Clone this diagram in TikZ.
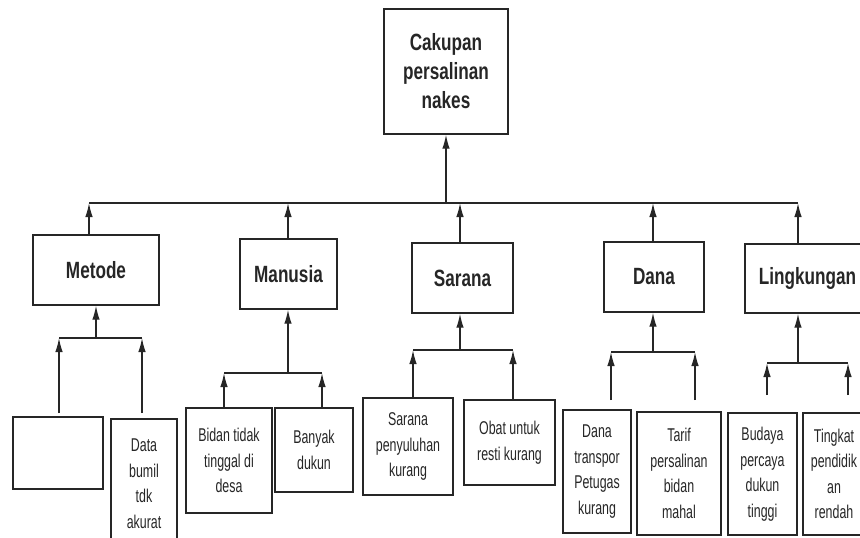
\documentclass[tikz,border=0pt]{standalone}
\usepackage{fontspec}
\newfontfamily\headfont{Liberation Sans}[FakeStretch=0.73]
\newfontfamily\itemfont{Liberation Sans}[FakeStretch=0.67]
\usetikzlibrary{arrows.meta}
\begin{document}
\begin{tikzpicture}[x=1pt,y=-1pt,
  ink/.style={draw=black!85,line width=1.4pt},
  arr/.style={ink,-{Latex[length=14pt,width=7.5pt]}},
  boxbase/.style={ink,text=black!85,inner sep=0pt,align=center},
  headbox/.style={boxbase,font={\headfont\bfseries\fontsize{23.5}{29}\selectfont}},
  itembox/.style={boxbase,font={\itemfont\fontsize{18.5}{25.5}\selectfont}}]
\useasboundingbox[fill=white] (0,0) rectangle (860,538);

% top problem box
\node[headbox,minimum width=124pt,minimum height=125pt] (T) at (446,71.5)
  {Cakupan\\persalinan\\nakes};

% cause categories
\node[headbox,minimum width=126pt,minimum height=70pt] (K1) at (96,270) {Metode};
\node[headbox,minimum width=97pt,minimum height=70pt] (K2) at (288.5,274) {Manusia};
\node[headbox,minimum width=101pt,minimum height=70pt] (K3) at (462.5,278) {Sarana};
\node[headbox,minimum width=100pt,minimum height=70pt] (K4) at (654,277) {Dana};
\node[headbox,minimum width=125pt,minimum height=69pt] (K5) at (807.5,278.5) {Lingkungan};

% detailed causes
\node[itembox,minimum width=90pt,minimum height=72pt] (C11) at (58,453) {};
\node[itembox,minimum width=66pt,minimum height=129pt] (C12) at (144,483.5) {Data\\bumil\\tdk\\akurat};
\node[itembox,minimum width=86pt,minimum height=105pt] (C21) at (229,460.5) {Bidan tidak\\tinggal di\\desa};
\node[itembox,minimum width=78pt,minimum height=84pt] (C22) at (314,450) {Banyak\\dukun};
\node[itembox,minimum width=90pt,minimum height=97pt] (C31) at (408,446.5) {Sarana\\penyuluhan\\kurang};
\node[itembox,minimum width=91pt,minimum height=85pt] (C32) at (509.5,442.5) {Obat untuk\\resti kurang};
\node[itembox,minimum width=68pt,minimum height=123pt] (C41) at (597,471.5) {Dana\\transpor\\Petugas\\kurang};
\node[itembox,minimum width=84pt,minimum height=123pt] (C42) at (679,473.5) {Tarif\\persalinan\\bidan\\mahal};
\node[itembox,minimum width=69pt,minimum height=122pt] (C51) at (762.5,474) {Budaya\\percaya\\dukun\\tinggi};
\node[itembox,minimum width=62pt,minimum height=122pt] (C52) at (834,474) {Tingkat\\pendidik\\an\\rendah};

% main bar and its junctions
\coordinate (m0) at (446,203);
\coordinate (a1) at (89,203);
\coordinate (a2) at (288,203);
\coordinate (a3) at (460,203);
\coordinate (a4) at (653,203);
\coordinate (a5) at (798,203);
\draw[ink] (a1) -- (a5);
\draw[arr] (m0) -- (T.south);
\foreach \k in {1,...,5} \draw[arr] (K\k.north -| a\k) -- (a\k);

% Metode branch
\coordinate (j1) at (96,338);
\coordinate (b1l) at (59,338);
\coordinate (b1r) at (142,338);
\coordinate (f1l) at (59,413);
\coordinate (f1r) at (142,413);
\draw[ink] (b1l) -- (b1r);
\draw[arr] (j1) -- (K1.south);
\draw[arr] (f1l) -- (b1l);
\draw[arr] (f1r) -- (b1r);

% Manusia branch
\coordinate (j2) at (288,373);
\coordinate (b2l) at (224,373);
\coordinate (b2r) at (322,373);
\draw[ink] (b2l) -- (b2r);
\draw[arr] (j2) -- (K2.south -| j2);
\draw[arr] (C21.north -| b2l) -- (b2l);
\draw[arr] (C22.north -| b2r) -- (b2r);

% Sarana branch
\coordinate (j3) at (460,350);
\coordinate (b3l) at (413,350);
\coordinate (b3r) at (513,350);
\draw[ink] (b3l) -- (b3r);
\draw[arr] (j3) -- (K3.south -| j3);
\draw[arr] (C31.north -| b3l) -- (b3l);
\draw[arr] (C32.north -| b3r) -- (b3r);

% Dana branch
\coordinate (j4) at (653,352);
\coordinate (b4l) at (611,352);
\coordinate (b4r) at (695,352);
\coordinate (f4l) at (611,400);
\coordinate (f4r) at (695,400);
\draw[ink] (b4l) -- (b4r);
\draw[arr] (j4) -- (K4.south -| j4);
\draw[arr] (f4l) -- (b4l);
\draw[arr] (f4r) -- (b4r);

% Lingkungan branch
\coordinate (j5) at (798,363);
\coordinate (b5l) at (767,363);
\coordinate (b5r) at (848,363);
\coordinate (f5l) at (767,395);
\coordinate (f5r) at (848,395);
\draw[ink] (b5l) -- (b5r);
\draw[arr] (j5) -- (K5.south -| j5);
\draw[arr] (f5l) -- (b5l);
\draw[arr] (f5r) -- (b5r);
\end{tikzpicture}
\end{document}
